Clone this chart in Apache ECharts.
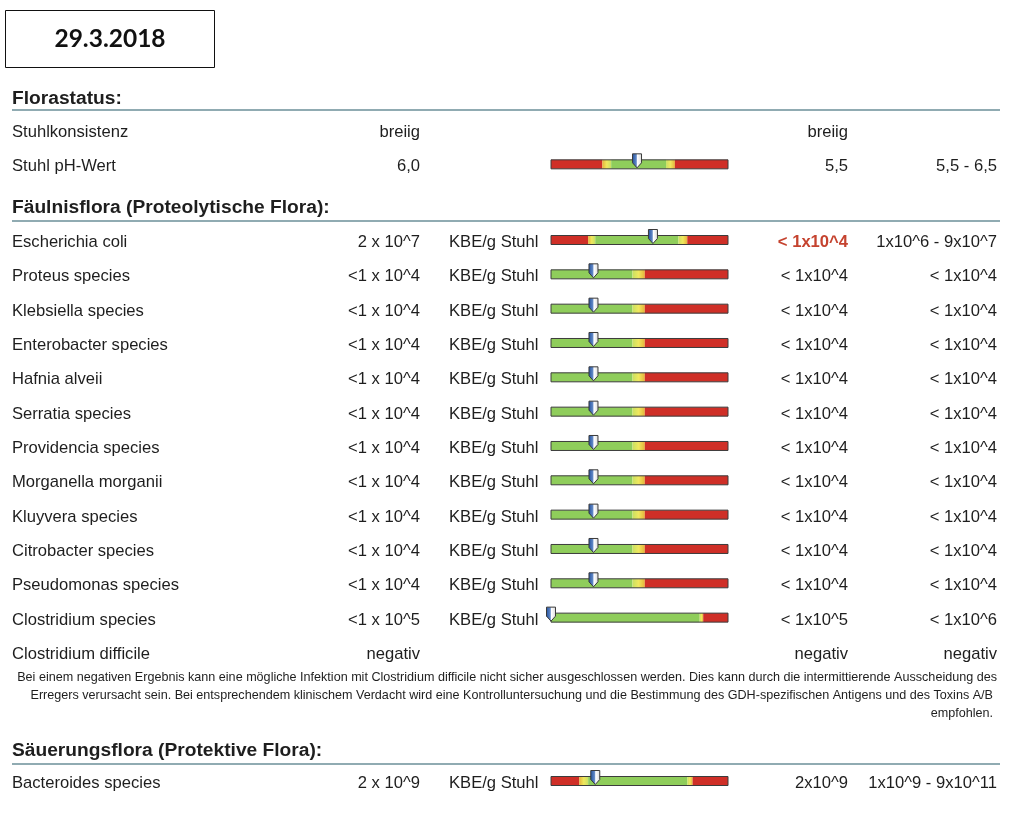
<!DOCTYPE html>
<html><head><meta charset="utf-8">
<script src="https://cdn.jsdelivr.net/npm/echarts@6/dist/echarts.min.js"></script>
<style>html,body{margin:0;padding:0;background:#fff}#c{width:1024px;height:821px}</style>
</head><body><div id="c"></div>
<script>
// ---------- DATA ----------
const reportDate = '29.3.2018';
const sectionTitles = ['Florastatus:', 'Fäulnisflora (Proteolytische Flora):', 'Säuerungsflora (Protektive Flora):'];

// Florastatus
const floraNames   = ['Stuhlkonsistenz', 'Stuhl pH-Wert'];
const floraValues  = ['breiig', '6,0'];
const floraUnits   = ['', ''];
const floraResults = ['breiig', '5,5'];
const floraRefs    = ['', '5,5 - 6,5'];
const floraMarkers = [null, 48.6];
// zone borders on a 0..100 gauge: red|yellow, yellow|green, green|yellow, yellow|red
const floraZones   = [null, [29, 34, 65, 70]];
const floraFlags   = [false, false];

// Fäulnisflora
const faulNames = ['Escherichia coli', 'Proteus species', 'Klebsiella species', 'Enterobacter species',
  'Hafnia alveii', 'Serratia species', 'Providencia species', 'Morganella morganii', 'Kluyvera species',
  'Citrobacter species', 'Pseudomonas species', 'Clostridium species', 'Clostridium difficile'];
const faulValues = ['2 x 10^7', '<1 x 10^4', '<1 x 10^4', '<1 x 10^4', '<1 x 10^4', '<1 x 10^4',
  '<1 x 10^4', '<1 x 10^4', '<1 x 10^4', '<1 x 10^4', '<1 x 10^4', '<1 x 10^5', 'negativ'];
const faulUnits = ['KBE/g Stuhl', 'KBE/g Stuhl', 'KBE/g Stuhl', 'KBE/g Stuhl', 'KBE/g Stuhl', 'KBE/g Stuhl',
  'KBE/g Stuhl', 'KBE/g Stuhl', 'KBE/g Stuhl', 'KBE/g Stuhl', 'KBE/g Stuhl', 'KBE/g Stuhl', ''];
const faulResults = ['< 1x10^4', '< 1x10^4', '< 1x10^4', '< 1x10^4', '< 1x10^4', '< 1x10^4',
  '< 1x10^4', '< 1x10^4', '< 1x10^4', '< 1x10^4', '< 1x10^4', '< 1x10^5', 'negativ'];
const faulRefs = ['1x10^6 - 9x10^7', '< 1x10^4', '< 1x10^4', '< 1x10^4', '< 1x10^4', '< 1x10^4',
  '< 1x10^4', '< 1x10^4', '< 1x10^4', '< 1x10^4', '< 1x10^4', '< 1x10^6', 'negativ'];
const faulMarkers = [57.6, 24, 24, 24, 24, 24, 24, 24, 24, 24, 24, 0, null];
const faulZones = [[21, 25, 72, 77], [0, 0, 46, 53], [0, 0, 46, 53], [0, 0, 46, 53], [0, 0, 46, 53],
  [0, 0, 46, 53], [0, 0, 46, 53], [0, 0, 46, 53], [0, 0, 46, 53], [0, 0, 46, 53], [0, 0, 46, 53],
  [0, 0, 84, 86], null];
const faulFlags = [true, false, false, false, false, false, false, false, false, false, false, false, false];

// Säuerungsflora
const protNames   = ['Bacteroides species'];
const protValues  = ['2 x 10^9'];
const protUnits   = ['KBE/g Stuhl'];
const protResults = ['2x10^9'];
const protRefs    = ['1x10^9 - 9x10^11'];
const protMarkers = [25];
const protZones   = [[16, 21, 77, 80]];
const protFlags   = [false];

const noteLines = [
  'Bei einem negativen Ergebnis kann eine mögliche Infektion mit Clostridium difficile nicht sicher ausgeschlossen werden. Dies kann durch die intermittierende Ausscheidung des',
  'Erregers verursacht sein. Bei entsprechendem klinischem Verdacht wird eine Kontrolluntersuchung und die Bestimmung des GDH-spezifischen Antigens und des Toxins A/B',
  'empfohlen.'
];

// ---------- RENDER ----------
const FONT = '"Liberation Sans", Arial, sans-serif';
const RED = '#cf2f27', GREEN = '#8fcd5b', TXT = '#1e1e1e';

function makeRender(S) {
  return function (params, api) {
    const i = params.dataIndex;
    const row = api.value(1);
    const X = v => api.coord([v, row])[0];
    const y = api.coord([0, row])[1];
    const ch = [];
    const t = (x, text, align, fill, bold) => ({
      type: 'text',
      style: { x: x, y: y + 1.5, text: text, align: align, verticalAlign: 'middle',
        fill: fill || TXT, font: (bold ? 'bold ' : '') + '16.6px ' + FONT }
    });
    ch.push(t(12, S.names[i], 'left'));
    ch.push(t(420, S.values[i], 'right'));
    if (S.units[i]) ch.push(t(449, S.units[i], 'left'));
    ch.push(t(848, S.results[i], 'right', S.flags[i] ? '#c5432f' : null, S.flags[i]));
    if (S.refs[i]) ch.push(t(997, S.refs[i], 'right'));
    const z = S.zones[i];
    if (z) {
      const bh = 9, by = y - bh / 2 - 1;
      const seg = (a, b, fill) => {
        if (b - a <= 0) return;
        ch.push({ type: 'rect', shape: { x: X(a), y: by, width: X(b) - X(a), height: bh }, style: { fill: fill } });
      };
      seg(0, z[0], RED);
      seg(z[0], z[1], { type: 'linear', x: 0, y: 0, x2: 1, y2: 0,
        colorStops: [{ offset: 0, color: '#e6b43a' }, { offset: 0.5, color: '#efe85e' }, { offset: 1, color: '#c9e062' }] });
      seg(z[1], z[2], GREEN);
      seg(z[2], z[3], { type: 'linear', x: 0, y: 0, x2: 1, y2: 0,
        colorStops: [{ offset: 0, color: '#c9e062' }, { offset: 0.5, color: '#efe85e' }, { offset: 1, color: '#e6b43a' }] });
      seg(z[3], 100, RED);
      ch.push({ type: 'rect', shape: { x: X(0), y: by, width: X(100) - X(0), height: bh },
        style: { fill: null, stroke: '#3c3c3c', lineWidth: 1 } });
      const m = S.markers[i];
      if (m !== null && m !== undefined) {
        const mx = X(m), top = by - 6, hw = 4.5;
        ch.push({ type: 'polygon',
          shape: { points: [[mx - hw, top], [mx + hw, top], [mx + hw, top + 9], [mx, top + 14], [mx - hw, top + 9]] },
          style: { fill: { type: 'linear', x: 0, y: 0, x2: 1, y2: 0,
              colorStops: [{ offset: 0, color: '#1f4f9e' }, { offset: 0.42, color: '#5f86c4' }, { offset: 0.55, color: '#ffffff' }, { offset: 1, color: '#d8d8d8' }] },
            stroke: '#3a3a3a', lineWidth: 1 } });
      }
    }
    return { type: 'group', children: ch };
  };
}

const sections = [
  { names: floraNames, values: floraValues, units: floraUnits, results: floraResults, refs: floraRefs, markers: floraMarkers, zones: floraZones, flags: floraFlags },
  { names: faulNames, values: faulValues, units: faulUnits, results: faulResults, refs: faulRefs, markers: faulMarkers, zones: faulZones, flags: faulFlags },
  { names: protNames, values: protValues, units: protUnits, results: protResults, refs: protRefs, markers: protMarkers, zones: protZones, flags: protFlags }
];
const ROW = 34.33;
const firstRowY = [131, 241, 782];

const grids = sections.map((s, k) => ({
  left: 551, width: 177, top: firstRowY[k] - ROW / 2, height: ROW * s.names.length
}));

const HFONT = 'bold 19.2px ' + FONT;
const NFONT = '12.6px ' + FONT;

const option = {
  animation: false,
  backgroundColor: '#ffffff',
  grid: grids,
  xAxis: sections.map((s, k) => ({ type: 'value', gridIndex: k, min: 0, max: 100, show: false })),
  yAxis: sections.map((s, k) => ({ type: 'category', gridIndex: k, inverse: true, data: s.names, show: false })),
  series: sections.map((s, k) => ({
    type: 'custom', xAxisIndex: k, yAxisIndex: k, clip: false,
    data: s.names.map((n, i) => [s.markers[i] === null ? 0 : s.markers[i], i]),
    renderItem: makeRender(s)
  })),
  graphic: [
    { type: 'rect', shape: { x: 5.5, y: 10.5, width: 209, height: 57 }, style: { fill: '#fff', stroke: '#111', lineWidth: 1 } },
    { type: 'text', style: { x: 110, y: 39, text: reportDate, align: 'center', verticalAlign: 'middle', fill: '#111', font: 'bold 24.5px Lato, "Open Sans", sans-serif' } },
    { type: 'text', style: { x: 12, y: 99, text: sectionTitles[0], verticalAlign: 'middle', fill: TXT, font: HFONT } },
    { type: 'line', shape: { x1: 12, y1: 110, x2: 1000, y2: 110 }, style: { stroke: '#6b8f99', lineWidth: 1.3 } },
    { type: 'text', style: { x: 12, y: 208, text: sectionTitles[1], verticalAlign: 'middle', fill: TXT, font: HFONT } },
    { type: 'line', shape: { x1: 12, y1: 221, x2: 1000, y2: 221 }, style: { stroke: '#6b8f99', lineWidth: 1.3 } },
    { type: 'text', style: { x: 12, y: 751, text: sectionTitles[2], verticalAlign: 'middle', fill: TXT, font: HFONT } },
    { type: 'line', shape: { x1: 12, y1: 764, x2: 1000, y2: 764 }, style: { stroke: '#6b8f99', lineWidth: 1.3 } },
    { type: 'text', style: { x: 997, y: 678, text: noteLines[0], align: 'right', verticalAlign: 'middle', fill: TXT, font: NFONT } },
    { type: 'text', style: { x: 993, y: 696, text: noteLines[1], align: 'right', verticalAlign: 'middle', fill: TXT, font: NFONT } },
    { type: 'text', style: { x: 993, y: 714, text: noteLines[2], align: 'right', verticalAlign: 'middle', fill: TXT, font: NFONT } }
  ]
};

const chart = echarts.init(document.getElementById('c'), null, { renderer: 'canvas' });
chart.setOption(option);
</script>
</body></html>
